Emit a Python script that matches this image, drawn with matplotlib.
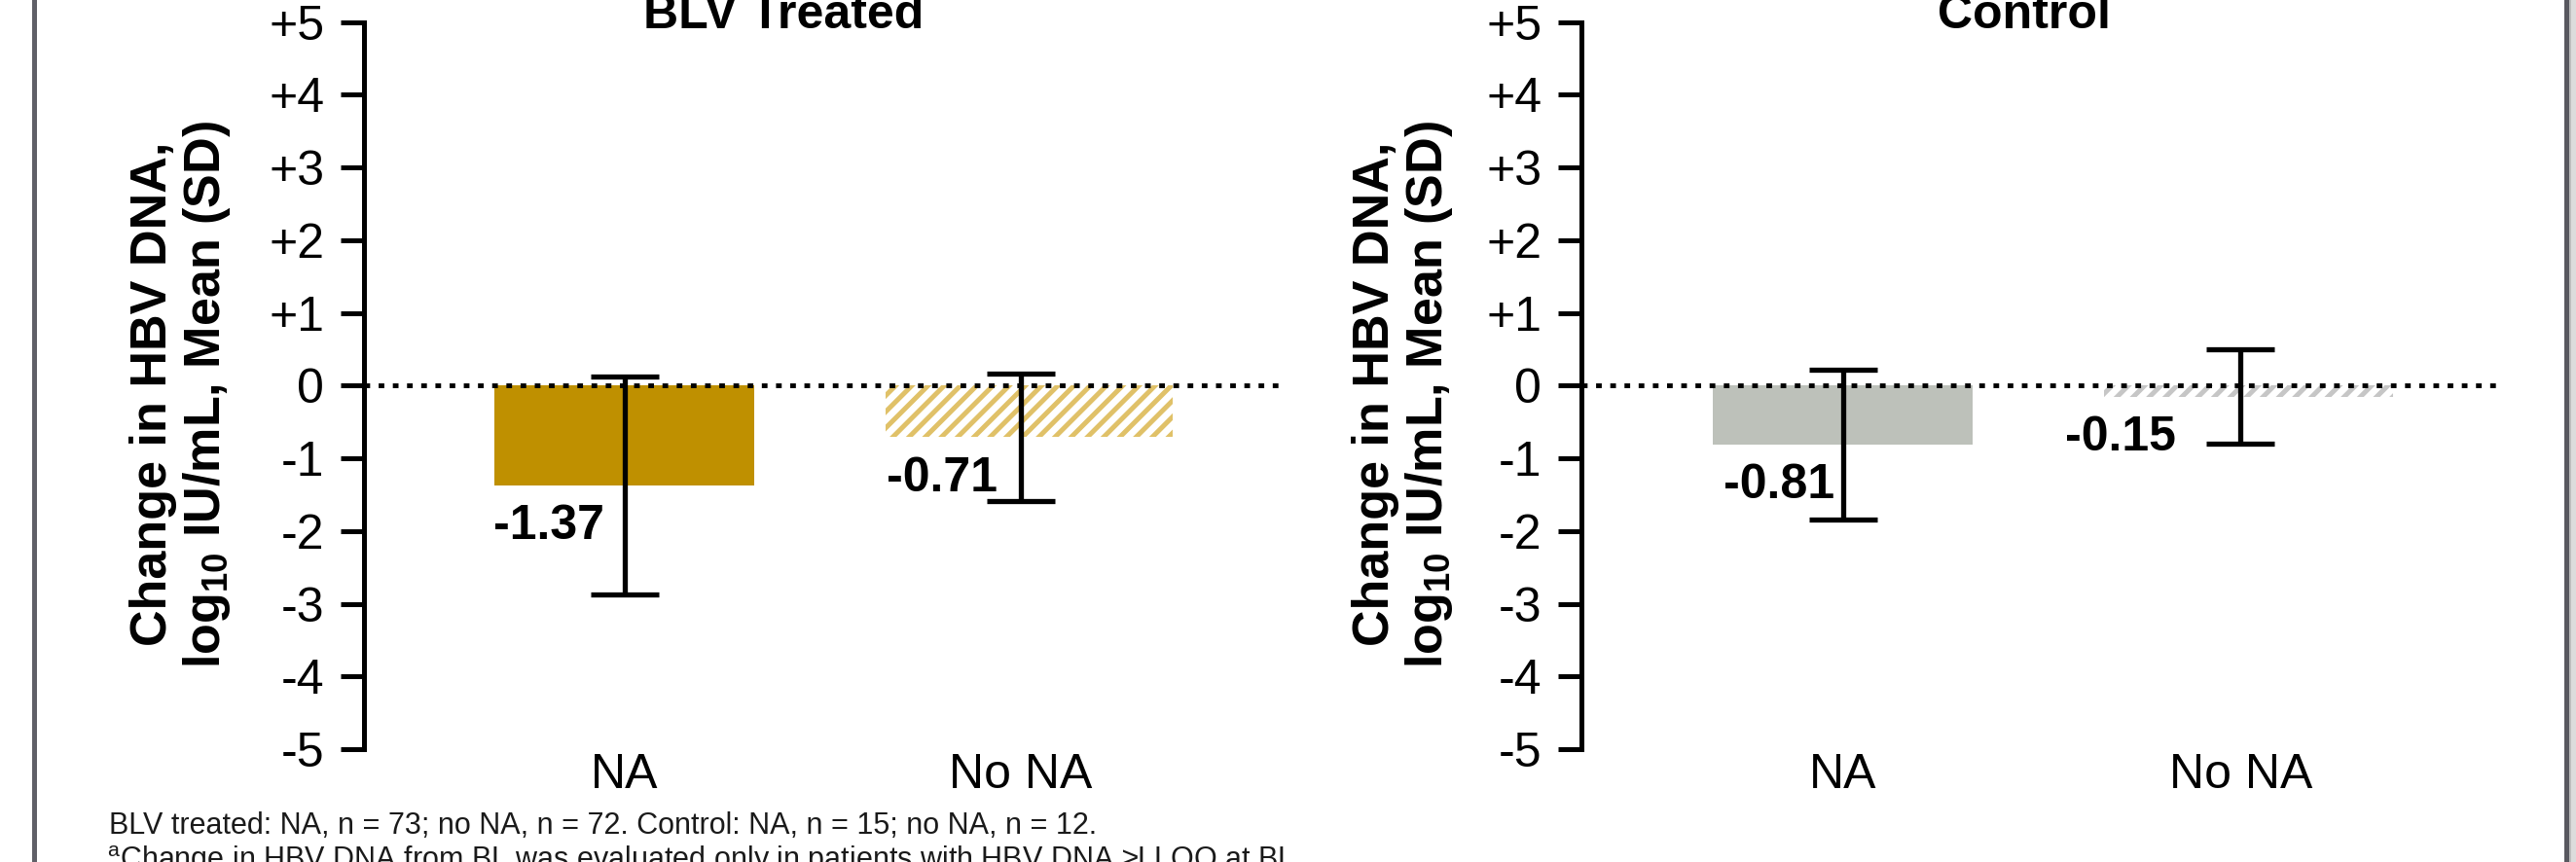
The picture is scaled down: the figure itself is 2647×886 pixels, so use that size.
import matplotlib
matplotlib.use('Agg')
import matplotlib.pyplot as plt
from matplotlib.lines import Line2D
from matplotlib.patches import Rectangle

plt.rcParams['font.family'] = ['Liberation Sans', 'DejaVu Sans']
plt.rcParams['mathtext.fontset'] = 'custom'
plt.rcParams['mathtext.rm'] = 'Liberation Sans'
plt.rcParams['mathtext.bf'] = 'Liberation Sans:bold'
plt.rcParams['mathtext.it'] = 'Liberation Sans:italic'
plt.rcParams['hatch.linewidth'] = 3.6

# ---------------- data ----------------
categories = ['NA', 'No NA']
panel_titles = ['BLV Treated', 'Control']
blv_mean = [-1.37, -0.71]
blv_sd = [1.50, 0.88]
control_mean = [-0.81, -0.15]
control_sd = [1.03, 0.65]
blv_value_labels = ['-1.37', '-0.71']
control_value_labels = ['-0.81', '-0.15']
ytick_values = [5, 4, 3, 2, 1, 0, -1, -2, -3, -4, -5]
ytick_labels = ['+5', '+4', '+3', '+2', '+1', '0', '-1', '-2', '-3', '-4', '-5']
ylabel_text = 'Change in HBV DNA,\nlog$_{\\mathbf{10}}$ IU/mL, Mean (SD)'
footnote_1 = 'BLV treated: NA, n = 73; no NA, n = 72. Control: NA, n = 15; no NA, n = 12.'
footnote_2 = ('$^{\\mathrm{a}}$Change in HBV DNA from BL was evaluated only in patients '
              'with HBV DNA \u2265LLOQ at BL.')

# ---------------- layout / style ----------------
W, H = 2647, 886
fig = plt.figure(figsize=(W / 100, H / 100), dpi=100)

def px_rect(x0, x1, ytop, ybot):
    return [x0 / W, 1 - ybot / H, (x1 - x0) / W, (ybot - ytop) / H]

panels = [
    dict(rect=px_rect(374, 1316, 22.7, 770), mean=blv_mean, sd=blv_sd,
         labels=blv_value_labels, title=panel_titles[0], title_x=805,
         ylab_x=186, solid='#BF9000', hatch_col='#E0C168',
         label_dx=[-0.33, -0.34]),
    dict(rect=px_rect(1625, 2570, 22.7, 770), mean=control_mean, sd=control_sd,
         labels=control_value_labels, title=panel_titles[1], title_x=2080,
         ylab_x=1442, solid='#BDC1BA', hatch_col='#C6C6C6',
         label_dx=[-0.30, -0.44]),
]
bar_widths = [0.655, 0.725]
bar_shift = [0.0, 0.02]
xpos = list(range(len(categories)))

for p in panels:
    ax = fig.add_axes(p['rect'])
    ax.set_xlim(-0.657, 1.655)
    ax.set_ylim(-5, 5)
    for s in ['top', 'right', 'bottom']:
        ax.spines[s].set_visible(False)
    ax.spines['left'].set_linewidth(3.6)
    ax.set_facecolor('none')

    # bars
    for i, (x, m) in enumerate(zip(xpos, p['mean'])):
        if i == 0:
            ax.bar(x + bar_shift[i], m, width=bar_widths[i], color=p['solid'],
                   linewidth=0, zorder=2)
        else:
            ax.bar(x + bar_shift[i], m, width=bar_widths[i], facecolor='white',
                   edgecolor=p['hatch_col'], hatch='//', linewidth=0, zorder=2)

    # zero dotted line
    ax.axhline(0, color='black', lw=3.5, linestyle=(0, (1.2, 1.8)), zorder=3)

    # error bars
    ax.errorbar(xpos, p['mean'], yerr=p['sd'], fmt='none', ecolor='black',
                elinewidth=3.8, capsize=25.5, capthick=3.8, zorder=4)

    # value labels
    for i, (x, m, lab) in enumerate(zip(xpos, p['mean'], p['labels'])):
        ax.text(x + p['label_dx'][i], m - 0.74, lab, ha='left', va='baseline',
                fontsize=36, fontweight='bold', zorder=5)

    ax.set_yticks(ytick_values)
    ax.set_yticklabels(ytick_labels)
    ax.tick_params(axis='y', direction='out', length=17.3, width=3.6, pad=12,
                   labelsize=36, colors='black')
    ax.set_xticks(xpos)
    ax.set_xticklabels(categories)
    ax.tick_params(axis='x', length=0, pad=3, labelsize=36)

    fig.text(p['title_x'] / W, 1 - 29 / H, p['title'], ha='center', va='baseline',
             fontsize=36, fontweight='bold')
    fig.text(p['ylab_x'] / W, 1 - 405 / H, ylabel_text, rotation=90, ha='center',
             va='center', multialignment='center', fontsize=37.5,
             fontweight='bold', linespacing=1.1)

fig.text(112 / W, 1 - 857 / H, footnote_1, ha='left', va='baseline',
         fontsize=22, color='#1a1a1a')
fig.text(110 / W, 1 - 893 / H, footnote_2, ha='left', va='baseline',
         fontsize=22, color='#1a1a1a')

# frame lines of the slide box
fig.add_artist(Line2D([35 / W, 35 / W], [0, 1], transform=fig.transFigure,
                      color='#606068', lw=3.6))
fig.add_artist(Line2D([2636.5 / W, 2636.5 / W], [0, 1], transform=fig.transFigure,
                      color='#58585f', lw=3.6))
fig.add_artist(Rectangle((2639 / W, 0), 3 / W, 1, transform=fig.transFigure,
                         color='#bdbdbd', lw=0))
fig.add_artist(Rectangle((2642 / W, 0), 5 / W, 1, transform=fig.transFigure,
                         color='#dcdcdc', lw=0))

fig.savefig('out.png', dpi=100)
